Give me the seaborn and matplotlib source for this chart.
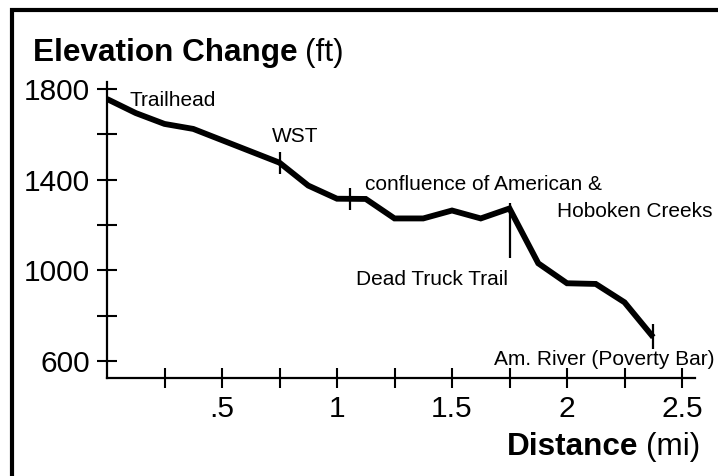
import numpy as np
import pandas as pd
import matplotlib
matplotlib.use("Agg")
import matplotlib.pyplot as plt
from matplotlib.patches import Rectangle
import seaborn as sns

# ---- data ----
distance_mi = [0.0, 0.125, 0.25, 0.375, 0.75, 0.875, 1.0, 1.125, 1.25, 1.375,
               1.5, 1.625, 1.75, 1.875, 2.0, 2.125, 2.25, 2.375]
elevation_ft = [1756, 1694, 1646, 1624, 1475, 1374, 1316, 1315, 1229, 1229,
                1264, 1229, 1273, 1031, 943, 940, 859, 705]

x_ticks = [0.25, 0.5, 0.75, 1.0, 1.25, 1.5, 1.75, 2.0, 2.25, 2.5]
x_tick_labels = ["", ".5", "", "1", "", "1.5", "", "2", "", "2.5"]
y_ticks = [600, 800, 1000, 1200, 1400, 1600, 1800]
y_tick_labels = ["600", "", "1000", "", "1400", "", "1800"]

landmark_dist = [0.75, 1.057, 1.75, 2.375]

df = pd.DataFrame({"Distance": distance_mi, "Elevation": elevation_ft})

W, H = 718, 476
sns.set_style("ticks")
plt.rcParams["font.family"] = ["Liberation Sans", "DejaVu Sans"]

fig = plt.figure(figsize=(W / 100, H / 100), dpi=100)
ax = fig.add_axes([107 / W, (H - 378) / H, (695 - 107) / W, (378 - 82) / H])

sns.lineplot(data=df, x="Distance", y="Elevation", ax=ax, color="black",
             linewidth=4.2, solid_joinstyle="miter", solid_capstyle="butt")

ax.set_xlim(0, (695 - 107) / 230)
ax.set_ylim(525, 1831)

ax.set_xticks(x_ticks)
ax.set_xticklabels(x_tick_labels)
ax.set_yticks(y_ticks)
ax.set_yticklabels(y_tick_labels)
ax.tick_params(axis="both", direction="inout", length=15, width=1.5,
               color="black", labelsize=21.5, pad=5, labelcolor="black",
               bottom=True, left=True, top=False, right=False)

sns.despine(ax=ax)
for s in ("left", "bottom"):
    ax.spines[s].set_linewidth(1.6)
    ax.spines[s].set_color("black")
ax.set_xlabel("")
ax.set_ylabel("")
ax.grid(False)

# landmark marks on the profile
lm_elev = np.interp(landmark_dist, distance_mi, elevation_ft)
ax.vlines(landmark_dist[0], lm_elev[0] - 48, lm_elev[0] + 48, color="black", lw=1.6)
ax.vlines(landmark_dist[1], lm_elev[1] - 48, lm_elev[1] + 48, color="black", lw=1.6)
ax.vlines(landmark_dist[2], lm_elev[2] - 218, lm_elev[2] + 22, color="black", lw=1.6)
ax.vlines(landmark_dist[3], lm_elev[3] - 50, lm_elev[3] + 60, color="black", lw=1.6)


def ftext(px, py, s, **kw):
    return fig.text(px / W, 1 - py / H, s, va="baseline", ha="left",
                    color="black", **kw)


ann = 15
ftext(130, 106, "Trailhead", fontsize=ann)
ftext(272, 142, "WST", fontsize=ann)
ftext(365, 190, "confluence of American &", fontsize=ann)
ftext(557, 217, "Hoboken Creeks", fontsize=ann)
ftext(356, 285, "Dead Truck Trail", fontsize=ann)
ftext(494, 365, "Am. River (Poverty Bar)", fontsize=ann)

# titles: bold part + regular part
t1 = ftext(33, 61, "Elevation Change", fontsize=22.7, fontweight="bold")
fig.canvas.draw()
bb = t1.get_window_extent()
fig.text((bb.x1 + 7) / W, 1 - 61 / H, "(ft)", fontsize=22.7, va="baseline",
         ha="left", color="black")
t2 = ftext(507, 455, "Distance", fontsize=22.7, fontweight="bold")
fig.canvas.draw()
bb2 = t2.get_window_extent()
fig.text((bb2.x1 + 7) / W, 1 - 455 / H, "(mi)", fontsize=22.7, va="baseline",
         ha="left", color="black")

# outer frame (cropped at right and bottom)
fig.add_artist(Rectangle((12 / W, -0.2), 1.5, 1.2 - 10 / H,
                         transform=fig.transFigure, fill=False,
                         edgecolor="black", linewidth=3.0, clip_on=False))

fig.savefig("out.png", dpi=100)
